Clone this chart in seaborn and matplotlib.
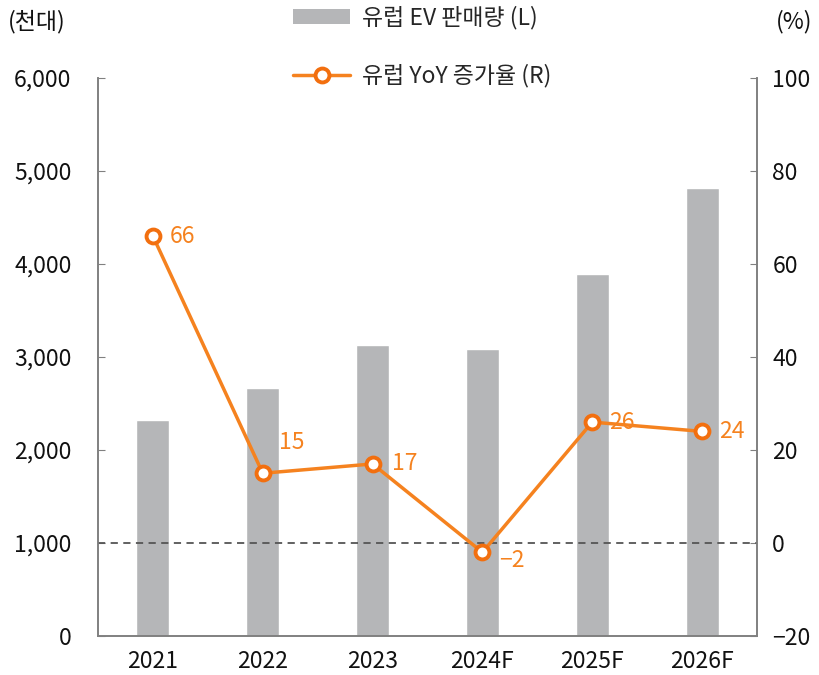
import numpy as np
import pandas as pd
import matplotlib.pyplot as plt
import seaborn as sns
from matplotlib.lines import Line2D
from matplotlib.patches import Patch

years = ['2021', '2022', '2023', '2024F', '2025F', '2026F']
ev_sales = [2320, 2670, 3130, 3085, 3890, 4820]
yoy_growth = [66, 15, 17, -2, 26, 24]
yoy_labels = ['66', '15', '17', '\u22122', '26', '24']

BAR_COLOR = '#B5B6B8'
LINE_COLOR = '#F5821F'
SPINE_COLOR = '#808080'
FS = 16.5

sns.set_style('white')
plt.rcParams['font.family'] = ['Noto Sans CJK KR', 'DejaVu Sans']

fig = plt.figure(figsize=(8.19, 6.75), dpi=100)
ax = fig.add_axes([98 / 819, 1 - 636 / 675, 659 / 819, 558 / 675])

df = pd.DataFrame({'year': years, 'sales': ev_sales})
sns.barplot(data=df, x='year', y='sales', color=BAR_COLOR, width=0.3,
            saturation=1, ax=ax)
ax.set_xlim(-0.5, len(years) - 0.5)
ax.set_ylim(0, 6000)
ax.set_yticks(range(0, 6001, 1000))
ax.set_yticklabels([f'{v:,}' for v in range(0, 6001, 1000)])
ax.set_xlabel('')
ax.set_ylabel('')

ax2 = ax.twinx()
sns.lineplot(x=np.arange(len(years)), y=yoy_growth, ax=ax2, color=LINE_COLOR,
             linewidth=2.5, marker='o', markersize=10, markerfacecolor='white',
             markeredgecolor='#F26F0F', markeredgewidth=2.8)
ax2.axhline(0, color='#555555', linestyle=(0, (4, 3)), linewidth=1.3, zorder=1)
ax2.set_ylim(-20, 100)
ax2.set_yticks(range(-20, 101, 20))
ax2.set_yticklabels([str(v).replace('-', '\u2212') for v in range(-20, 101, 20)])

offsets = [(12, 0), (12, 22), (14, 0), (12, -6), (12, 0), (12, 0)]
for i, (v, lab) in enumerate(zip(yoy_growth, yoy_labels)):
    ax2.annotate(lab, (i, v), xytext=offsets[i], textcoords='offset points',
                 ha='left', va='center', fontsize=FS, color=LINE_COLOR)

for a in (ax, ax2):
    a.spines['top'].set_visible(False)
    for s in ('left', 'right', 'bottom'):
        a.spines[s].set_color(SPINE_COLOR)
        a.spines[s].set_linewidth(1.2)
    a.tick_params(axis='both', direction='in', length=5, color=SPINE_COLOR,
                  labelsize=FS, labelcolor='#111111')
ax.tick_params(axis='x', length=0, pad=10)
ax.tick_params(axis='y', pad=19)
ax2.tick_params(axis='y', pad=11)

fig.text(8 / 819, 1 - 22 / 675, '(천대)', fontsize=FS, va='center', color='#111111')
fig.text(812 / 819, 1 - 22 / 675, '(%)', fontsize=FS, va='center', ha='right', color='#111111')

handles = [
    Patch(facecolor=BAR_COLOR, edgecolor='none'),
    Line2D([0], [0], color=LINE_COLOR, linewidth=2.5, marker='o', markersize=10,
           markerfacecolor='white', markeredgecolor='#F26F0F', markeredgewidth=2.8),
]
fig.legend(handles, ['유럽 EV 판매량 (L)', '유럽 YoY 증가율 (R)'],
           loc='center', bbox_to_anchor=(422 / 819, 1 - 47 / 675), ncol=1,
           frameon=False, fontsize=FS, handlelength=2.5, handleheight=0.6,
           labelspacing=1.5, handletextpad=0.5)

fig.savefig('out.png', dpi=100)
